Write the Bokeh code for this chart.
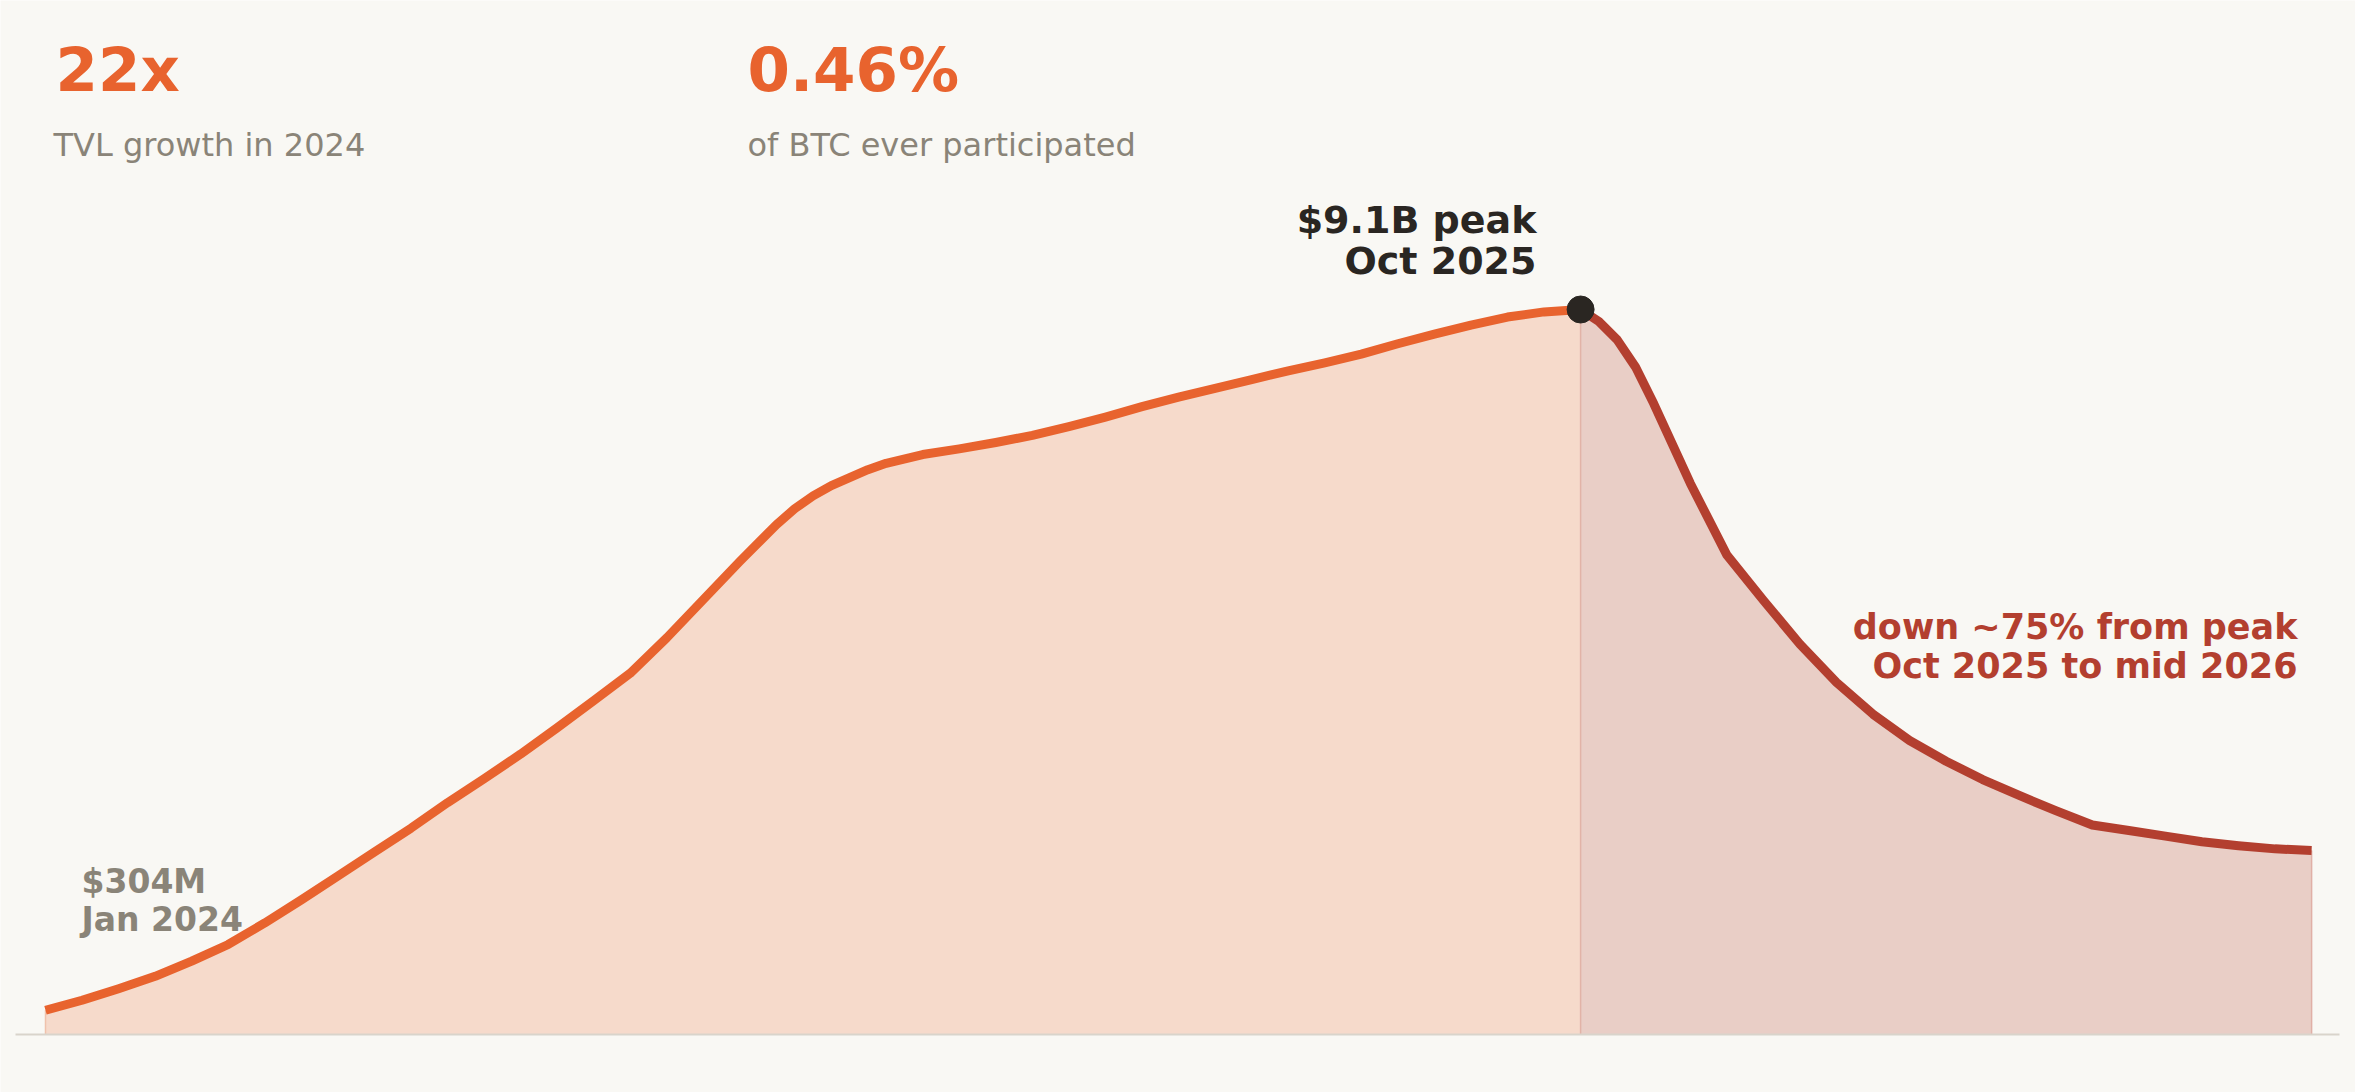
from bokeh.plotting import figure
from bokeh.models import Label, Range1d
from bokeh.embed import file_html
from bokeh.resources import INLINE

# ---- data (months since Jan 2024, TVL in $B) ----
rise_months = [0, 0.5, 1, 1.5, 2, 2.5, 3, 3.5, 4, 4.5, 5, 5.5, 6, 6.5, 7, 7.5,
               8, 8.5, 9, 9.5, 9.75, 10, 10.25, 10.5, 10.75, 11, 11.25, 11.5,
               12, 12.5, 13, 13.5, 14, 14.5, 15, 15.5, 16, 16.5, 17, 17.5,
               18, 18.5, 19, 19.5, 20, 20.5, 21]
rise_tvl = [0.304, 0.43, 0.575, 0.73, 0.92, 1.13, 1.40, 1.69, 1.99, 2.29,
            2.59, 2.91, 3.21, 3.52, 3.85, 4.19, 4.535, 4.98, 5.46, 5.94,
            6.17, 6.40, 6.60, 6.76, 6.89, 6.99, 7.09, 7.17, 7.28, 7.35,
            7.43, 7.52, 7.63, 7.75, 7.88, 8.00, 8.11, 8.22, 8.33, 8.43,
            8.54, 8.67, 8.79, 8.905, 9.005, 9.07, 9.10]
fall_months = [21, 21.25, 21.5, 21.75, 22, 22.5, 23, 23.5, 24, 24.5, 25, 25.5,
               26, 26.5, 27, 27.5, 28, 28.5, 29, 29.5, 30, 30.5, 31]
fall_tvl = [9.10, 8.95, 8.72, 8.38, 7.92, 6.92, 6.02, 5.45, 4.90, 4.42, 4.02,
            3.69, 3.43, 3.20, 3.00, 2.81, 2.63, 2.56, 2.49, 2.42, 2.37, 2.33,
            2.31]
peak_month = [21]
peak_tvl = [9.10]

stat_values = ["22x", "0.46%"]
stat_labels = ["TVL growth in 2024", "of BTC ever participated"]

BG = "#F9F8F4"
ORANGE = "#E8632E"
RED = "#B33F2F"
GRAY = "#8A8478"
DARK = "#2A2622"
FONT = "DejaVu Sans"

W, H = 2355, 1092
PXM = 73.1      # px per month
PXB = 79.67     # px per $B
x0 = -45 / PXM
y0 = -(H - 1034) / PXB

p = figure(width=W, height=H, output_backend="svg", toolbar_location=None,
           x_range=Range1d(x0, x0 + W / PXM), y_range=Range1d(y0, y0 + H / PXB),
           min_border=0)
p.axis.visible = False
p.grid.visible = False
p.outline_line_color = None
p.background_fill_color = BG
p.border_fill_color = BG

# areas
p.varea(x=rise_months, y1=0, y2=rise_tvl, fill_color="#F6DACB")
p.varea(x=fall_months, y1=0, y2=fall_tvl, fill_color="#E9CEC6")

# thin edges of areas
p.segment(x0=[rise_months[0]], y0=[0], x1=[rise_months[0]], y1=[rise_tvl[0]],
          line_color="#F0C2AC", line_width=1.5)
p.segment(x0=peak_month, y0=[0], x1=peak_month, y1=peak_tvl,
          line_color="#E2B3A7", line_width=1.5)
p.segment(x0=[fall_months[-1]], y0=[0], x1=[fall_months[-1]], y1=[fall_tvl[-1]],
          line_color="#E0B0A6", line_width=1.5)

# baseline
bx0 = (15 - 45) / PXM
bx1 = (2339 - 45) / PXM
p.segment(x0=[bx0], y0=[0], x1=[bx1], y1=[0], line_color="#D9D4CB", line_width=2)

# lines
p.line(rise_months, rise_tvl, line_color=ORANGE, line_width=9,
       line_join="round", line_cap="butt")
p.line(fall_months, fall_tvl, line_color=RED, line_width=9,
       line_join="round", line_cap="butt")

# peak dot
p.scatter(peak_month, peak_tvl, size=27, fill_color=DARK, line_color=DARK)


def lab(text, px, py, size, color, bold=True, align="left"):
    # py = desired alphabetic baseline on the page
    yy = H - (py - 0.4 * size)
    p.add_layout(Label(x=px, y=yy, x_units="screen", y_units="screen",
                       text=text, text_font=FONT, text_font_size="%dpx" % size,
                       text_font_style="bold" if bold else "normal",
                       text_color=color, text_align=align,
                       text_baseline="alphabetic"))


# stats
lab(stat_values[0], 55, 93, 61, ORANGE)
lab(stat_labels[0], 53, 157, 32, GRAY, bold=False)
lab(stat_values[1], 747, 93, 61, ORANGE)
lab(stat_labels[1], 747, 157, 32, GRAY, bold=False)

# annotations
lab("$304M", 81, 894, 33, GRAY)
lab("Jan 2024", 81, 932, 33, GRAY)
lab("$9.1B peak", 1536, 235, 38, DARK, align="right")
lab("Oct 2025", 1536, 276, 38, DARK, align="right")
lab("down ~75% from peak", 2297, 640, 35, RED, align="right")
lab("Oct 2025 to mid 2026", 2297, 679, 35, RED, align="right")

html = file_html(p, INLINE)
html = html.replace("<body>", '<body style="background:%s">' % BG, 1)
open("out.html", "w").write(html)
